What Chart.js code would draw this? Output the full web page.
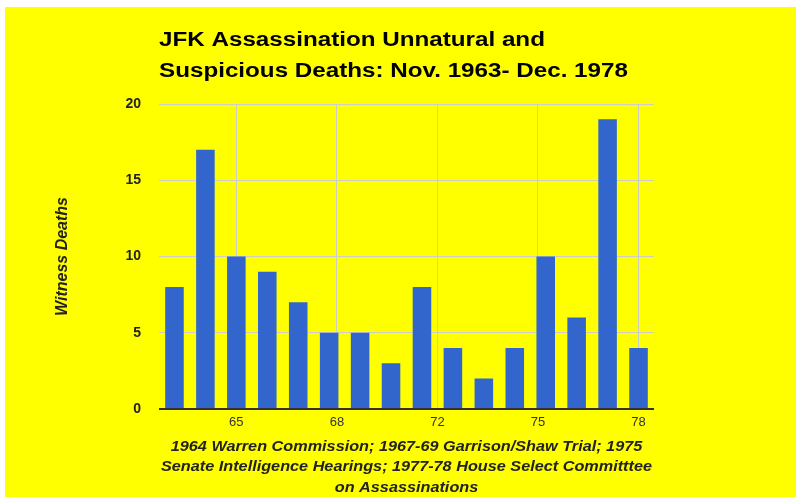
<!DOCTYPE html>
<html>
<head>
<meta charset="utf-8">
<script src="https://cdn.jsdelivr.net/npm/chart.js@4.4.0/dist/chart.umd.min.js"></script>
<style>
  html, body { margin: 0; padding: 0; background: #ffffff; }
  #wrap { position: absolute; left: 5px; top: 7px; width: 791px; height: 490px; background: #ffff00; }
</style>
</head>
<body>
<div id="wrap"><canvas id="chart" width="791" height="490"></canvas></div>
<script>
// --- ข้อมูล ---
const years = [63, 64, 65, 66, 67, 68, 69, 70, 71, 72, 73, 74, 75, 76, 77, 78];
const deaths = [8, 17, 10, 9, 7, 5, 5, 3, 8, 4, 2, 4, 10, 6, 19, 4];
const xTickValues = [65, 68.25, 71.5, 74.75, 78];
const xTickLabels = ['65', '68', '72', '75', '78'];
const yTickValues = [0, 5, 10, 15, 20];
const titleLines = ['JFK Assassination Unnatural and', 'Suspicious Deaths: Nov. 1963- Dec. 1978'];
const xTitleLines = [
  '1964 Warren Commission; 1967-69 Garrison/Shaw Trial; 1975',
  'Senate Intelligence Hearings; 1977-78 House Select Committtee',
  'on Assassinations'
];

const FONT = '"Liberation Sans", Arial, sans-serif';

// หัวเรื่อง + ชื่อแกน x (ตัวอักษรยืดแนวนอนเหมือนภาพต้นฉบับ)
const textPlugin = {
  id: 'stretchedText',
  afterDraw(chart) {
    const ctx = chart.ctx;
    const area = chart.chartArea;
    ctx.save();
    ctx.fillStyle = '#000000';
    ctx.font = 'bold 20px ' + FONT;
    ctx.textBaseline = 'alphabetic';
    ctx.textAlign = 'left';
    titleLines.forEach((t, i) => {
      ctx.save();
      ctx.translate(area.left, 39 + i * 31);
      ctx.scale(1.21, 1);
      ctx.fillText(t, 0, 0);
      ctx.restore();
    });
    ctx.fillStyle = '#222222';
    ctx.font = 'italic bold 14px ' + FONT;
    ctx.textBaseline = 'middle';
    ctx.textAlign = 'center';
    const cx = (area.left + area.right) / 2;
    xTitleLines.forEach((t, i) => {
      ctx.save();
      ctx.translate(cx, 440 + i * 20.5);
      ctx.scale(1.16, 1);
      ctx.fillText(t, 0, 0);
      ctx.restore();
    });
    ctx.restore();
  }
};

new Chart(document.getElementById('chart').getContext('2d'), {
  type: 'bar',
  data: {
    datasets: [{
      data: years.map((y, i) => ({ x: y, y: deaths[i] })),
      backgroundColor: '#3366cc',
      borderWidth: 0,
      barPercentage: 0.6,
      categoryPercentage: 1
    }]
  },
  options: {
    responsive: false,
    animation: false,
    layout: { padding: { top: 97, right: 142, bottom: 0, left: 0 } },
    plugins: { legend: { display: false }, tooltip: { enabled: false } },
    scales: {
      x: {
        type: 'linear',
        min: 62.5,
        max: 78.5,
        offset: false,
        afterFit(scale) { scale.height = 88; },
        afterBuildTicks(scale) { scale.ticks = xTickValues.map(v => ({ value: v })); },
        grid: { color: '#cccccc', lineWidth: 1, drawTicks: false, offset: false },
        border: { display: false },
        ticks: {
          padding: 6,
          color: '#333333',
          font: { family: FONT, size: 13 },
          maxRotation: 0,
          autoSkip: false,
          callback: (v, i) => xTickLabels[i]
        }
      },
      y: {
        min: 0,
        max: 20,
        afterFit(scale) { scale.width = 154; },
        afterBuildTicks(scale) { scale.ticks = yTickValues.map(v => ({ value: v })); },
        grid: {
          color: ctx => ctx.tick && ctx.tick.value === 0 ? '#333333' : '#cccccc',
          lineWidth: ctx => ctx.tick && ctx.tick.value === 0 ? 2 : 1,
          drawTicks: false
        },
        border: { display: false },
        ticks: {
          padding: 18,
          color: '#222222',
          font: { family: FONT, size: 14, weight: 'bold' }
        },
        title: {
          display: true,
          text: 'Witness Deaths',
          color: '#222222',
          font: { family: FONT, size: 16, weight: 'bold', style: 'italic' },
          padding: { top: 48, bottom: 0 }
        }
      }
    }
  },
  plugins: [textPlugin]
});
</script>
</body>
</html>
